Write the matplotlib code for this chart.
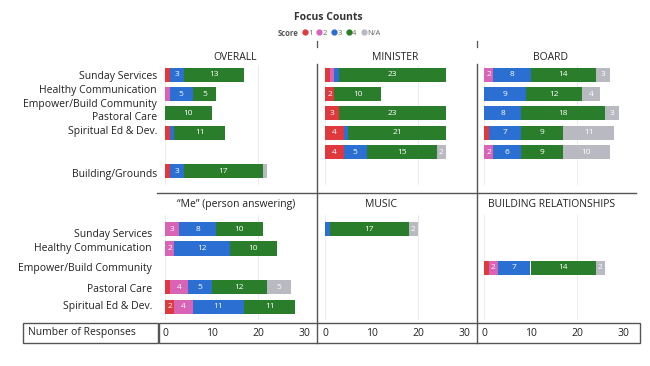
import matplotlib
matplotlib.use("Agg")
import matplotlib.pyplot as plt
from matplotlib.lines import Line2D
from matplotlib.patches import Rectangle

plt.rcParams['font.family'] = ['Open Sans', 'DejaVu Sans']

W, H = 650, 366

# score categories and colours
score_names = ["1", "2", "3", "4", "N/A"]
score_colors = ["#e0393d", "#d964b6", "#2b6fd3", "#2a7d2a", "#b9b9c1"]

# left side labels
top_labels = ["Sunday Services", "Healthy Communication", "Empower/Build Community",
              "Pastoral Care", "Spiritual Ed & Dev.", "Building/Grounds"]
bottom_labels = ["Sunday Services", "Healthy Communication", "Empower/Build Community",
                 "Pastoral Care", "Spiritual Ed & Dev."]

# OVERALL
overall_rows = [0, 1, 2, 3, 5]
overall_1 = [1, 0, 0, 1, 1]
overall_2 = [0, 1, 0, 0, 0]
overall_3 = [3, 5, 0, 1, 3]
overall_4 = [13, 5, 10, 11, 17]
overall_na = [0, 0, 0, 0, 1]

# MINISTER
minister_rows = [0, 1, 2, 3, 4]
minister_1 = [1, 2, 3, 4, 4]
minister_2 = [1, 0, 0, 0, 0]
minister_3 = [1, 0, 0, 1, 5]
minister_4 = [23, 10, 23, 21, 15]
minister_na = [0, 0, 0, 0, 2]

# BOARD
board_rows = [0, 1, 2, 3, 4]
board_1 = [0, 0, 0, 1, 0]
board_2 = [2, 0, 0, 0, 2]
board_3 = [8, 9, 8, 7, 6]
board_4 = [14, 12, 18, 9, 9]
board_na = [3, 4, 3, 11, 10]

# "Me" (person answering)
me_rows = [0, 1, 3, 4]
me_1 = [0, 0, 1, 2]
me_2 = [3, 2, 4, 4]
me_3 = [8, 12, 5, 11]
me_4 = [10, 10, 12, 11]
me_na = [0, 0, 5, 0]

# MUSIC
music_rows = [0]
music_1 = [0]
music_2 = [0]
music_3 = [1]
music_4 = [17]
music_na = [2]

# BUILDING RELATIONSHIPS
rel_rows = [2]
rel_1 = [1]
rel_2 = [2]
rel_3 = [7]
rel_4 = [14]
rel_na = [2]

x_ticks = [0, 10, 20, 30]


def fx(x):
    return x / W


def fy(y):
    return 1 - y / H


fig = plt.figure(figsize=(6.5, 3.66), dpi=100)
fig.patch.set_facecolor("white")

PX_UNIT = 4.65
XMAX = 32


def make_panel(left, top, bottom, ylim, rows, series, title, title_x, title_y, ticks):
    ax = fig.add_axes([fx(left), fy(bottom), XMAX * PX_UNIT / W, (bottom - top) / H])
    ax.set_xlim(0, XMAX)
    ax.set_ylim(*ylim)
    ax.axvline(0, color="#ececec", lw=0.7, zorder=0)
    ax.axvline(20, color="#ececec", lw=0.7, zorder=0)
    base = [0] * len(rows)
    for vals, col in zip(series, score_colors):
        bars = ax.barh(rows, vals, left=base, height=0.72, color=col, zorder=2)
        labels = [str(v) if v >= 2 else "" for v in vals]
        ax.bar_label(bars, labels=labels, label_type="center", color="white",
                     fontsize=6)
        base = [b + v for b, v in zip(base, vals)]
    for s in ax.spines.values():
        s.set_visible(False)
    ax.set_yticks([])
    if ticks:
        ax.set_xticks(x_ticks)
        ax.tick_params(axis="x", length=0, pad=5.5, labelsize=7.5, labelcolor="#222222")
    else:
        ax.set_xticks([])
    fig.text(fx(title_x), fy(title_y), title, ha="center", va="center",
             fontsize=7.5, color="#222222")
    return ax


top_ylim = (5.7, -0.5)
bot_ylim = (4.67, -0.72)

make_panel(165, 65, 185, top_ylim, overall_rows,
           [overall_1, overall_2, overall_3, overall_4, overall_na],
           "OVERALL", 235, 57, False)
make_panel(325, 65, 185, top_ylim, minister_rows,
           [minister_1, minister_2, minister_3, minister_4, minister_na],
           "MINISTER", 395, 57, False)
make_panel(484, 65, 185, top_ylim, board_rows,
           [board_1, board_2, board_3, board_4, board_na],
           "BOARD", 551, 57, False)
make_panel(165, 215, 320, bot_ylim, me_rows,
           [me_1, me_2, me_3, me_4, me_na],
           "\u201cMe\u201d (person answering)", 236, 205, True)
make_panel(325, 215, 320, bot_ylim, music_rows,
           [music_1, music_2, music_3, music_4, music_na],
           "MUSIC", 381, 205, True)
make_panel(484, 215, 320, bot_ylim, rel_rows,
           [rel_1, rel_2, rel_3, rel_4, rel_na],
           "BUILDING RELATIONSHIPS", 552, 205, True)

# left labels
top_label_y = [76, 90, 104, 118, 132, 175]
for lab, yy in zip(top_labels, top_label_y):
    fig.text(fx(157), fy(yy), lab, ha="right", va="center", fontsize=7.5, color="#222222")
bottom_label_y = [234, 249, 268, 290, 307]
for lab, yy in zip(bottom_labels, bottom_label_y):
    fig.text(fx(152), fy(yy), lab, ha="right", va="center", fontsize=7.5, color="#222222")

# title and legend
fig.text(fx(328), fy(17), "Focus Counts", ha="center", va="center",
         fontsize=7.5, fontweight="bold", color="#333333")
fig.text(fx(288), fy(33), "Score", ha="center", va="center",
         fontsize=5.5, fontweight="bold", color="#555555")
handles = [Line2D([], [], marker="o", ls="", color=c, markersize=3.5) for c in score_colors]
fig.legend(handles, score_names, loc="center", bbox_to_anchor=(fx(341), fy(33)),
           ncol=5, frameon=False, fontsize=5.5, handletextpad=0.05,
           columnspacing=0.5, handlelength=0.8, labelcolor="#666666",
           borderaxespad=0, borderpad=0)

# dividers and frames
line_col = "#555555"
for xx in [317, 477]:
    fig.add_artist(Line2D([fx(xx), fx(xx)], [fy(41), fy(47)], color=line_col, lw=0.9))
    fig.add_artist(Line2D([fx(xx), fx(xx)], [fy(64), fy(343)], color=line_col, lw=1.0))
fig.add_artist(Line2D([fx(157), fx(636)], [fy(193), fy(193)], color=line_col, lw=1.0))

fig.add_artist(Rectangle((fx(23), fy(343)), (158 - 23) / W, 20 / H, transform=fig.transFigure,
                         fill=False, edgecolor=line_col, lw=1.0))
fig.add_artist(Rectangle((fx(159), fy(343)), (640 - 159) / W, 20 / H, transform=fig.transFigure,
                         fill=False, edgecolor=line_col, lw=1.0))
fig.text(fx(28), fy(333), "Number of Responses", ha="left", va="center",
         fontsize=7.5, color="#222222")

fig.savefig("out.png", dpi=100, facecolor="white")
